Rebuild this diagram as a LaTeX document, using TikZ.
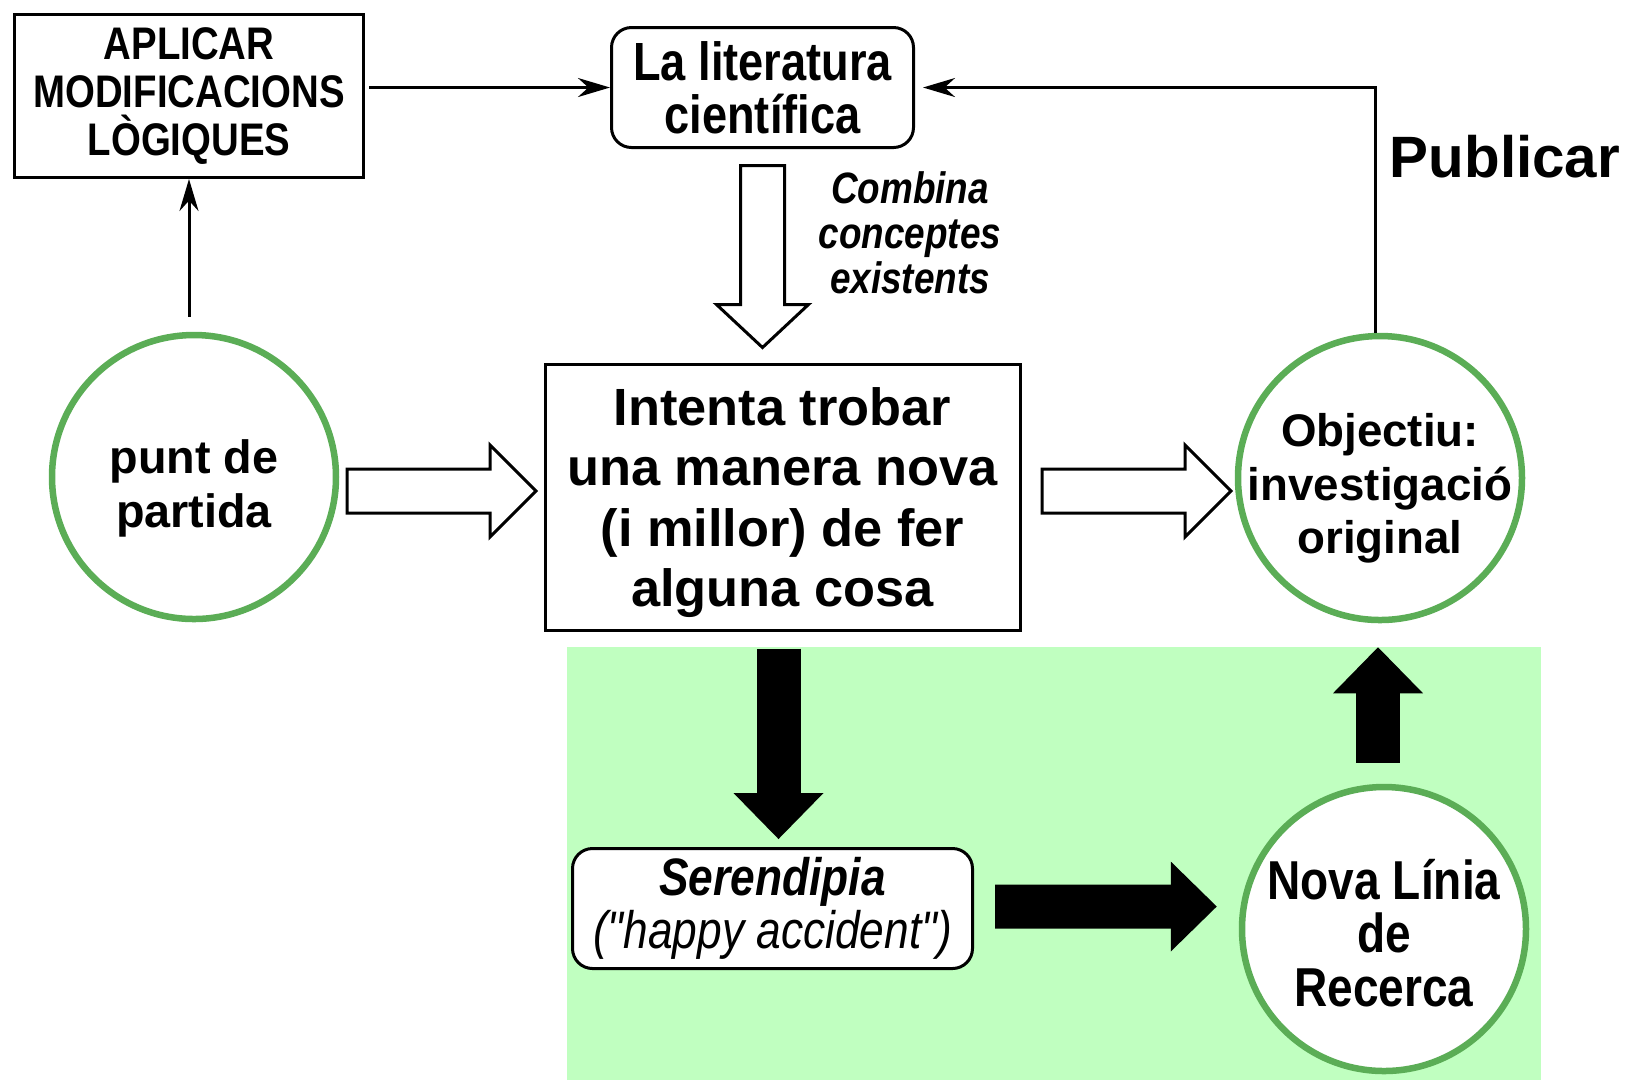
\documentclass[tikz,border=0pt]{standalone}
\usepackage{fontspec}
\setmainfont{Liberation Sans}
\newfontfamily\narrowfont[FakeStretch=0.84]{Liberation Sans}
\usetikzlibrary{positioning, arrows.meta, calc}
\definecolor{ringgreen}{HTML}{5BAD56}
\definecolor{zonegreen}{HTML}{C0FFC0}
\tikzset{
  boxnode/.style={draw, line width=0.3mm, fill=white, inner sep=0pt, align=center},
  roundnode/.style={boxnode, rounded corners=2mm},
  ringnode/.style={circle, draw=ringgreen, line width=0.65mm, fill=white, minimum size=28.4mm, inner sep=0pt},
  ringtext/.style={align=center, inner sep=0pt, font=\fontsize{13.3}{15.4}\selectfont\bfseries},
  thinarrow/.style={line width=0.3mm, -{Stealth[length=3.2mm, width=1.9mm]}},
  blackarrow/.style={line width=4.4mm, -{Triangle[length=4.6mm, width=9mm, line width=0pt]}},
  hollowarrow/.style={line width=0.3mm, fill=white, line join=miter}
}

\begin{document}
\begin{tikzpicture}[x=0.1mm, y=-0.1mm]
    \useasboundingbox (0,0) rectangle (1629,1080);

    % Zona de la serendipia
    \fill[zonegreen] (567,647) rectangle (1541,1080);

    % Caixes
    \node[boxnode, minimum width=34.9mm, minimum height=16.3mm, font=\narrowfont\fontsize{13}{13.6}\selectfont\bfseries] (aplicar) at (189,96) {APLICAR\\MODIFICACIONS\\LÒGIQUES};
    \node[roundnode, minimum width=30.2mm, minimum height=12mm, font=\narrowfont\fontsize{15.3}{15.2}\selectfont\bfseries] (literatura) at (762.5,87.5) {La literatura\\científica};
    \node[boxnode, minimum width=47.5mm, minimum height=26.6mm, text depth=0pt, font=\fontsize{14.9}{17.2}\selectfont\bfseries] (intenta) at (782.5,497) {Intenta trobar\\una manera nova\\(i millor) de fer\\alguna cosa};
    \node[roundnode, minimum width=40mm, minimum height=12mm, font=\narrowfont\fontsize{15}{15.2}\selectfont] (serendipia) at (772.5,908.5) {\bfseries\itshape Serendipia\\\itshape ("happy accident")};

    % Cercles
    \node[ringnode] (punt) at (194,477) {};
    \node[ringtext, yshift=-1.15mm] (punttext) at (punt) {punt de\\partida};
    \node[ringnode] (objectiu) at (1380,478) {};
    \node[ringtext, yshift=-1.05mm, font=\fontsize{13}{15.2}\selectfont\bfseries] (objectiutext) at (objectiu) {Objectiu:\\investigació\\original};
    \node[ringnode] (nova) at (1384,929) {};
    \node[ringtext, yshift=-0.4mm, font=\narrowfont\fontsize{15.6}{15.3}\selectfont\bfseries] (novatext) at (nova) {Nova Línia\\de\\Recerca};

    % Etiquetes
    \node[font=\narrowfont\fontsize{12.5}{12.8}\selectfont\bfseries\itshape, align=center] (combina) at (910,233) {Combina\\conceptes\\existents};
    \node[font=\fontsize{16.6}{18}\selectfont\bfseries] (publicar) at (1505,157) {Publicar};

    % Fletxes fines
    \draw[thinarrow, shorten <=1.5mm] (aplicar.south |- punt.north) -- (aplicar.south);
    \draw[thinarrow, shorten <=0.4mm] (aplicar.east |- literatura.west) -- (literatura.west);
    \draw[thinarrow] ([xshift=-0.5mm]objectiu.north) |- ([xshift=0.8mm]literatura.east);

    % Fletxes buides
    \draw[hollowarrow] ($(literatura.south)+(-22,16.5)$) -- ++(44,0) -- ++(0,139) -- ++(24,0) -- ++(-46,43) -- ++(-46,-43) -- ++(24,0) -- cycle;
    \foreach \x in {347, 1042}
        \draw[hollowarrow] (\x,469) -- ++(143,0) -- ++(0,-24) -- ++(46,46) -- ++(-46,46) -- ++(0,-24) -- ++(-143,0) -- cycle;

    % Fletxes negres
    \draw[blackarrow] ([shift={(-4,17)}]intenta.south) -- ([shift={(6,-8)}]serendipia.north);
    \draw[blackarrow] ([shift={(21,-2)}]serendipia.east) -- ([shift={(-22,-22.5)}]nova.west);
    \draw[blackarrow] ([shift={(-6,-21)}]nova.north) -- ([shift={(-2,24)}]objectiu.south);

\end{tikzpicture}
\end{document}
